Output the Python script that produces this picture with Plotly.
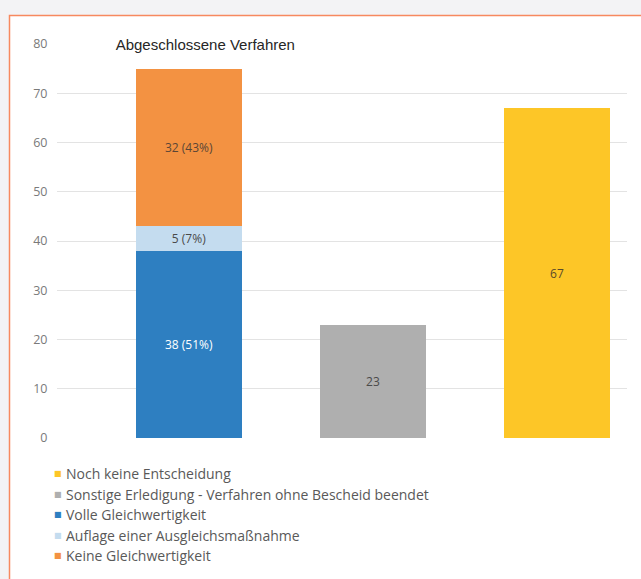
import plotly.graph_objects as go

# ---- data ----
categories = ["Abgeschlossene Verfahren", "Sonstige Erledigung", "Noch keine Entscheidung"]
volle = [38, None, None]
auflage = [5, None, None]
keine = [32, None, None]
sonstige = [None, 23, None]
noch = [None, None, 67]
series_names = [
    "Noch keine Entscheidung",
    "Sonstige Erledigung - Verfahren ohne Bescheid beendet",
    "Volle Gleichwertigkeit",
    "Auflage einer Ausgleichsmaßnahme",
    "Keine Gleichwertigkeit",
]
y_ticks = [0, 10, 20, 30, 40, 50, 60, 70, 80]
title_text = "Abgeschlossene Verfahren"

colors = {
    "Noch keine Entscheidung": "#FDC627",
    "Sonstige Erledigung - Verfahren ohne Bescheid beendet": "#AFAFAF",
    "Volle Gleichwertigkeit": "#2E7FC1",
    "Auflage einer Ausgleichsmaßnahme": "#C4DCEF",
    "Keine Gleichwertigkeit": "#F39242",
}

total_closed = volle[0] + auflage[0] + keine[0]

def pct_labels(vals):
    return [f"{v} ({round(100 * v / total_closed)}%)" if v is not None else "" for v in vals]

def plain_labels(vals):
    return [str(v) if v is not None else "" for v in vals]

FONT = "Open Sans"
fig = go.Figure()
traces = [
    ("Volle Gleichwertigkeit", volle, pct_labels(volle), "white"),
    ("Auflage einer Ausgleichsmaßnahme", auflage, pct_labels(auflage), "#4A4A4A"),
    ("Keine Gleichwertigkeit", keine, pct_labels(keine), "#5A4636"),
    ("Sonstige Erledigung - Verfahren ohne Bescheid beendet", sonstige, plain_labels(sonstige), "#4A4A4A"),
    ("Noch keine Entscheidung", noch, plain_labels(noch), "#5A4A2A"),
]
for name, vals, txt, tcol in traces:
    fig.add_trace(go.Bar(
        x=categories, y=vals, name=name, text=txt,
        textposition="inside", insidetextanchor="middle",
        textfont=dict(family=FONT, size=12, color=tcol),
        marker=dict(color=colors[name], line=dict(width=0)),
        width=0.576, showlegend=False, cliponaxis=False, hoverinfo="skip",
    ))

# plot-area geometry helpers (pixels -> paper)
L, R, T, B = 57, 14, 44, 141
W, H = 641, 579
pw, ph = W - L - R, H - T - B
def px(x):
    return (x - L) / pw
def py(y):
    return (H - B - y) / ph

shapes = [dict(type="rect", xref="paper", yref="paper",
               x0=px(9.5), x1=px(660), y0=py(600), y1=py(15.5),
               fillcolor="white", line=dict(color="#F7895F", width=1.5), layer="below")]

annotations = [dict(
    text="&nbsp;&nbsp;&nbsp;&nbsp;" + title_text + "&nbsp;&nbsp;&nbsp;&nbsp;",
    xref="paper", yref="y", x=px(97), y=80, xanchor="left", yanchor="middle",
    showarrow=False, bgcolor="white", borderpad=1,
    font=dict(family="Liberation Sans, Arial", size=15, color="#262626"),
)]

legend_y = [473, 494, 514, 535, 555]
for name, yy in zip(series_names, legend_y):
    annotations.append(dict(
        text="■", xref="paper", yref="paper", x=px(57.5), y=py(yy),
        xanchor="center", yanchor="middle", showarrow=False,
        font=dict(family="DejaVu Sans", size=8, color=colors[name]),
    ))
    annotations.append(dict(
        text=name, xref="paper", yref="paper", x=px(64), y=py(yy),
        xanchor="left", yanchor="middle", showarrow=False,
        font=dict(family=FONT, size=14, color="#595959"),
    ))

fig.update_layout(
    width=W, height=H,
    margin=dict(l=L, r=R, t=T, b=B, pad=0),
    paper_bgcolor="#F3F3F5",
    plot_bgcolor="rgba(0,0,0,0)",
    barmode="stack",
    bargap=0,
    showlegend=False,
    shapes=shapes,
    annotations=annotations,
    xaxis=dict(range=[-0.717, 2.38], showticklabels=False, showgrid=False,
               zeroline=False, showline=False, ticks=""),
    yaxis=dict(range=[0, 80], tickvals=y_ticks, showgrid=True, gridcolor="#E3E3E3",
               gridwidth=1, zeroline=False, showline=False, ticks="outside",
               ticklen=6, tickcolor="rgba(0,0,0,0)",
               tickfont=dict(family=FONT, size=12.5, color="#7A7A7A")),
    font=dict(family=FONT),
)

fig.write_html("out.html", config={"displayModeBar": False},
               post_script="document.body.style.margin='0';document.body.style.padding='0';")
